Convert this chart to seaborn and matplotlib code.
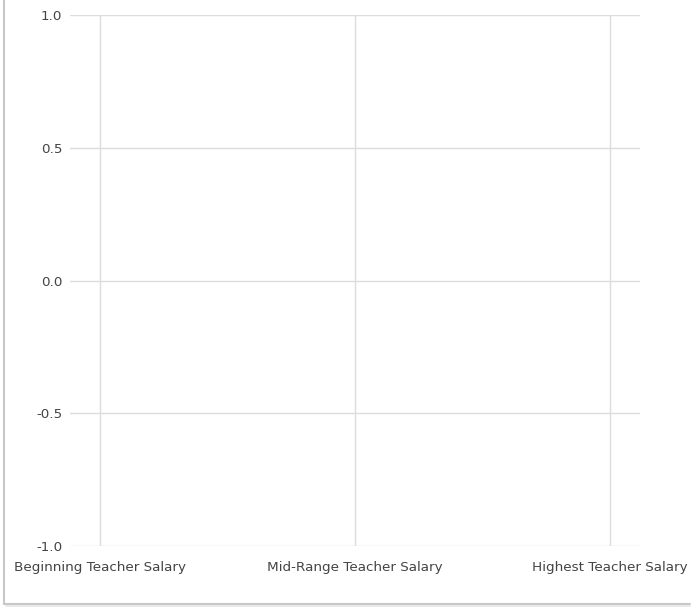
import matplotlib
matplotlib.use("Agg")
import matplotlib.pyplot as plt
from matplotlib.lines import Line2D
import seaborn as sns
import numpy as np
import pandas as pd

categories = ["Beginning Teacher Salary", "Mid-Range Teacher Salary", "Highest Teacher Salary"]
values = [np.nan, np.nan, np.nan]
y_ticks = [-1.0, -0.5, 0.0, 0.5, 1.0]
y_tick_labels = ["-1.0", "-0.5", "0.0", "0.5", "1.0"]

sns.set_theme(style="white")
plt.rcParams["font.family"] = ["DejaVu Sans"]

W, H = 694, 609
fig = plt.figure(figsize=(W / 100, H / 100), dpi=100)
ax = fig.add_axes([70 / W, (H - 546) / H, (640 - 70) / W, (546 - 15) / H])

df = pd.DataFrame({"category": categories, "value": values})
sns.pointplot(data=df, x="category", y="value", ax=ax, order=categories)

ax.set_xlim(-0.118, 2.118)
ax.set_ylim(-1.0, 1.0)
ax.set_xticks(range(len(categories)))
ax.set_xticklabels(categories)
ax.set_yticks(y_ticks)
ax.set_yticklabels(y_tick_labels)
ax.set_xlabel("")
ax.set_ylabel("")
for s in ax.spines.values():
    s.set_visible(False)
ax.grid(True, color="#dcdcdc", linewidth=1.0)
ax.set_axisbelow(True)
ax.tick_params(axis="both", length=0, labelsize=9.7, colors="#444444")
ax.tick_params(axis="x", pad=10.5)
ax.tick_params(axis="y", pad=5.5)

# container border (left and bottom)
fig.add_artist(Line2D([4 / W, 4 / W], [(H - 604) / H, 1.0], color="#c8c8c8", linewidth=1.5, transform=fig.transFigure))
fig.add_artist(Line2D([4 / W, 690 / W], [(H - 604) / H, (H - 604) / H], color="#c8c8c8", linewidth=1.5, transform=fig.transFigure))
fig.add_artist(Line2D([6 / W, 690 / W], [(H - 606) / H, (H - 606) / H], color="#e6e6e6", linewidth=1.2, transform=fig.transFigure))

fig.savefig("out.png", dpi=100)
